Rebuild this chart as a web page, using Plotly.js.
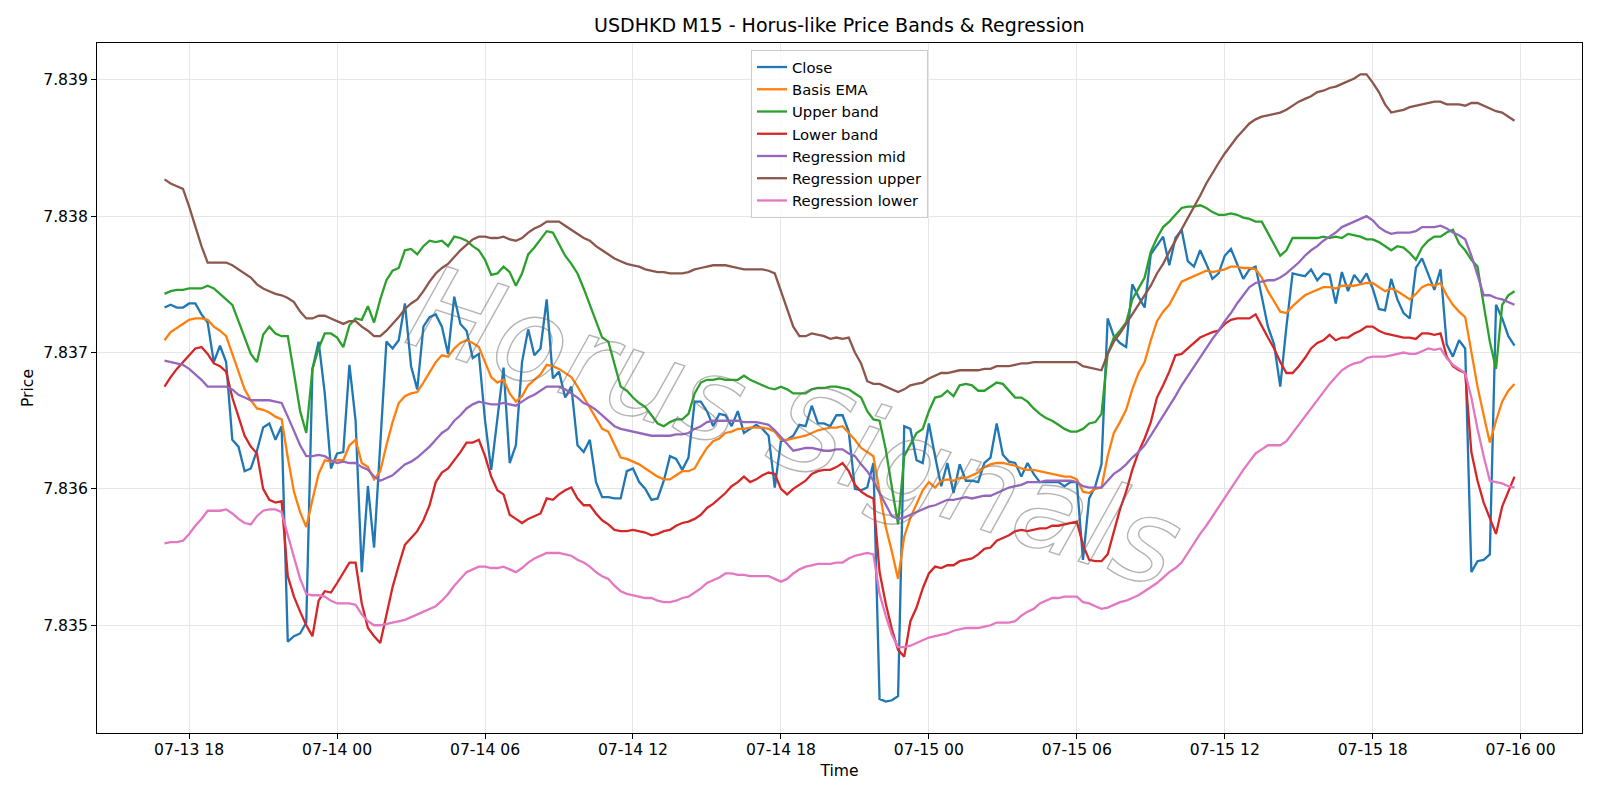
<!DOCTYPE html>
<html>
<head>
<meta charset="utf-8">
<script src="https://cdn.plot.ly/plotly-3.0.1.min.js"></script>
<style>
  html, body { margin: 0; padding: 0; background: #ffffff; }
  #chart { width: 1600px; height: 800px; }
</style>
</head>
<body>
<div id="chart"></div>
<script>
// USDHKD, 15-minute bars: first bar 2025-07-13 17:00, one value per bar.
const firstBar = { year: 2025, month: 7, day: 13, hour: 17, minute: 0 };
const barMinutes = 15;

const closeVals = [
  7.83733, 7.83735, 7.83733, 7.83733, 7.83736, 7.83736, 7.83728, 7.83722, 7.83693, 7.83705,
  7.83693, 7.83636, 7.83631, 7.83613, 7.83615, 7.83628, 7.83645, 7.83648, 7.83636, 7.83646,
  7.83488, 7.83492, 7.83494, 7.83502, 7.83688, 7.83708, 7.83670, 7.83615, 7.83626, 7.83627,
  7.83691, 7.83650, 7.83539, 7.83602, 7.83557, 7.83632, 7.83708, 7.83703, 7.83709, 7.83736,
  7.83690, 7.83673, 7.83719, 7.83726, 7.83728, 7.83719, 7.83699, 7.83741, 7.83721, 7.83716,
  7.83696, 7.83699, 7.83650, 7.83614, 7.83651, 7.83689, 7.83619, 7.83632, 7.83693, 7.83717,
  7.83698, 7.83703, 7.83739, 7.83681, 7.83686, 7.83667, 7.83675, 7.83632, 7.83627, 7.83636,
  7.83605, 7.83594, 7.83594, 7.83593, 7.83593, 7.83613, 7.83615, 7.83605, 7.83600, 7.83592,
  7.83593, 7.83606, 7.83624, 7.83622, 7.83614, 7.83623, 7.83664, 7.83664, 7.83657, 7.83646,
  7.83655, 7.83654, 7.83646, 7.83657, 7.83641, 7.83644, 7.83647, 7.83644, 7.83639, 7.83601,
  7.83635, 7.83636, 7.83639, 7.83647, 7.83646, 7.83661, 7.83648, 7.83648, 7.83646, 7.83654,
  7.83654, 7.83642, 7.83600, 7.83599, 7.83601, 7.83619, 7.83446, 7.83444, 7.83445, 7.83448,
  7.83646, 7.83644, 7.83621, 7.83619, 7.83648, 7.83624, 7.83602, 7.83619, 7.83597, 7.83618,
  7.83606, 7.83606, 7.83605, 7.83619, 7.83623, 7.83648, 7.83625, 7.83620, 7.83619, 7.83609,
  7.83619, 7.83611, 7.83605, 7.83605, 7.83605, 7.83605, 7.83602, 7.83605, 7.83605, 7.83548,
  7.83593, 7.83602, 7.83618, 7.83725, 7.83712, 7.83707, 7.83704, 7.83750, 7.83741, 7.83733,
  7.83772, 7.83779, 7.83785, 7.83764, 7.83784, 7.83790, 7.83767, 7.83763, 7.83775, 7.83765,
  7.83754, 7.83758, 7.83771, 7.83776, 7.83765, 7.83754, 7.83761, 7.83763, 7.83741, 7.83719,
  7.83706, 7.83675, 7.83719, 7.83758, 7.83757, 7.83756, 7.83761, 7.83753, 7.83758, 7.83757,
  7.83736, 7.83759, 7.83745, 7.83757, 7.83751, 7.83758, 7.83747, 7.83732, 7.83731, 7.83754,
  7.83739, 7.83729, 7.83725, 7.83762, 7.83769, 7.83758, 7.83746, 7.83761, 7.83706, 7.83697,
  7.83709, 7.83703, 7.83539, 7.83547, 7.83548, 7.83552, 7.83735, 7.83725, 7.83712, 7.83705
];

const basisEma = [
  7.83709, 7.83715, 7.83718, 7.83721, 7.83724, 7.83725, 7.83725, 7.83724, 7.83719, 7.83716,
  7.83712, 7.83699, 7.83686, 7.83673, 7.83665, 7.83659, 7.83658, 7.83656, 7.83653, 7.83651,
  7.83623, 7.83598, 7.83583, 7.83572, 7.83592, 7.83611, 7.83621, 7.83620, 7.83621, 7.83621,
  7.83632, 7.83636, 7.83619, 7.83616, 7.83607, 7.83613, 7.83632, 7.83649, 7.83663, 7.83668,
  7.83670, 7.83671, 7.83678, 7.83686, 7.83693, 7.83698, 7.83697, 7.83703, 7.83707, 7.83709,
  7.83707, 7.83704, 7.83693, 7.83682, 7.83678, 7.83680, 7.83670, 7.83664, 7.83668, 7.83676,
  7.83680, 7.83684, 7.83691, 7.83690, 7.83688, 7.83685, 7.83682, 7.83675, 7.83667, 7.83660,
  7.83652, 7.83644, 7.83642, 7.83632, 7.83623, 7.83622, 7.83620, 7.83618, 7.83615, 7.83612,
  7.83609, 7.83607, 7.83607, 7.83610, 7.83613, 7.83613, 7.83615, 7.83623, 7.83630, 7.83635,
  7.83637, 7.83641, 7.83642, 7.83644, 7.83644, 7.83645, 7.83645, 7.83645, 7.83644, 7.83642,
  7.83636, 7.83636, 7.83637, 7.83638, 7.83639, 7.83641, 7.83643, 7.83644, 7.83645, 7.83645,
  7.83646, 7.83641, 7.83636, 7.83630, 7.83627, 7.83624, 7.83598, 7.83572, 7.83554, 7.83534,
  7.83565, 7.83579, 7.83589, 7.83599, 7.83605, 7.83601, 7.83606, 7.83607, 7.83606, 7.83608,
  7.83608, 7.83610, 7.83612, 7.83616, 7.83618, 7.83619, 7.83619, 7.83618, 7.83617, 7.83615,
  7.83614, 7.83614, 7.83613, 7.83612, 7.83611, 7.83610, 7.83609, 7.83609, 7.83607, 7.83598,
  7.83597, 7.83600, 7.83601, 7.83624, 7.83641, 7.83649, 7.83658, 7.83673, 7.83685, 7.83693,
  7.83709, 7.83723, 7.83730, 7.83735, 7.83744, 7.83752, 7.83754, 7.83756, 7.83758, 7.83760,
  7.83759, 7.83760, 7.83761, 7.83763, 7.83763, 7.83762, 7.83762, 7.83761, 7.83755, 7.83745,
  7.83737, 7.83730, 7.83729, 7.83734, 7.83738, 7.83742, 7.83744, 7.83746, 7.83748, 7.83748,
  7.83747, 7.83749, 7.83749, 7.83749, 7.83750, 7.83751, 7.83751, 7.83748, 7.83745, 7.83747,
  7.83745, 7.83742, 7.83739, 7.83743, 7.83748, 7.83750, 7.83749, 7.83751, 7.83742, 7.83735,
  7.83730, 7.83726, 7.83699, 7.83675, 7.83654, 7.83634, 7.83650, 7.83664, 7.83672, 7.83677
];

const upperBand = [
  7.83743, 7.83745, 7.83746, 7.83746, 7.83747, 7.83747, 7.83747, 7.83749, 7.83747, 7.83743,
  7.83739, 7.83735, 7.83723, 7.83711, 7.83699, 7.83693, 7.83713, 7.83719, 7.83714, 7.83712,
  7.83712, 7.83685, 7.83657, 7.83641, 7.83688, 7.83703, 7.83714, 7.83714, 7.83711, 7.83704,
  7.83720, 7.83725, 7.83724, 7.83734, 7.83722, 7.83739, 7.83753, 7.83760, 7.83762, 7.83775,
  7.83776, 7.83772, 7.83778, 7.83782, 7.83781, 7.83782, 7.83778, 7.83785, 7.83784, 7.83782,
  7.83778, 7.83775, 7.83768, 7.83757, 7.83758, 7.83763, 7.83759, 7.83749, 7.83758, 7.83772,
  7.83777, 7.83783, 7.83789, 7.83788, 7.83780, 7.83771, 7.83765, 7.83758, 7.83747, 7.83735,
  7.83723, 7.83711, 7.83708, 7.83691, 7.83675, 7.83672, 7.83667, 7.83663, 7.83660, 7.83654,
  7.83648, 7.83646, 7.83649, 7.83651, 7.83651, 7.83655, 7.83670, 7.83678, 7.83680, 7.83680,
  7.83681, 7.83680, 7.83680, 7.83680, 7.83683, 7.83680, 7.83678, 7.83676, 7.83674, 7.83673,
  7.83675, 7.83673, 7.83670, 7.83670, 7.83670, 7.83673, 7.83674, 7.83674, 7.83675, 7.83675,
  7.83674, 7.83673, 7.83670, 7.83667, 7.83657, 7.83651, 7.83650, 7.83629, 7.83601, 7.83574,
  7.83624, 7.83632, 7.83641, 7.83644, 7.83657, 7.83667, 7.83668, 7.83672, 7.83668, 7.83676,
  7.83677, 7.83676, 7.83672, 7.83672, 7.83675, 7.83678, 7.83677, 7.83672, 7.83667, 7.83667,
  7.83664, 7.83659, 7.83655, 7.83652, 7.83650, 7.83647, 7.83644, 7.83642, 7.83642, 7.83644,
  7.83648, 7.83649, 7.83655, 7.83699, 7.83711, 7.83716, 7.83722, 7.83739, 7.83747, 7.83755,
  7.83774, 7.83784, 7.83792, 7.83796, 7.83801, 7.83806, 7.83807, 7.83807, 7.83808, 7.83806,
  7.83803, 7.83801, 7.83801, 7.83802, 7.83801, 7.83799, 7.83798, 7.83796, 7.83796, 7.83788,
  7.83779, 7.83771, 7.83775, 7.83784, 7.83784, 7.83784, 7.83784, 7.83784, 7.83785, 7.83784,
  7.83785, 7.83784, 7.83787, 7.83786, 7.83785, 7.83783, 7.83783, 7.83781, 7.83778, 7.83775,
  7.83778, 7.83777, 7.83773, 7.83768, 7.83777, 7.83782, 7.83785, 7.83785, 7.83788, 7.83790,
  7.83780, 7.83775, 7.83768, 7.83763, 7.83735, 7.83708, 7.83688, 7.83735, 7.83742, 7.83745
];

const lowerBand = [
  7.83675, 7.83682, 7.83688, 7.83693, 7.83698, 7.83703, 7.83704, 7.83699, 7.83692, 7.83690,
  7.83686, 7.83667, 7.83653, 7.83639, 7.83631, 7.83626, 7.83600, 7.83592, 7.83590, 7.83591,
  7.83536, 7.83521, 7.83510, 7.83500, 7.83492, 7.83518, 7.83525, 7.83524, 7.83531, 7.83539,
  7.83546, 7.83546, 7.83516, 7.83498, 7.83492, 7.83487, 7.83507, 7.83528, 7.83544, 7.83559,
  7.83564, 7.83569, 7.83577, 7.83588, 7.83605, 7.83612, 7.83615, 7.83621, 7.83627, 7.83634,
  7.83634, 7.83636, 7.83624, 7.83609, 7.83599, 7.83596, 7.83581, 7.83578, 7.83575, 7.83578,
  7.83580, 7.83582, 7.83593, 7.83592, 7.83596, 7.83599, 7.83601, 7.83593, 7.83588, 7.83588,
  7.83582, 7.83577, 7.83574, 7.83570, 7.83569, 7.83569, 7.83570, 7.83569, 7.83568, 7.83566,
  7.83567, 7.83569, 7.83570, 7.83573, 7.83575, 7.83576, 7.83578, 7.83581, 7.83586, 7.83589,
  7.83593, 7.83597, 7.83602, 7.83605, 7.83609, 7.83605, 7.83607, 7.83610, 7.83612, 7.83611,
  7.83600, 7.83596, 7.83600, 7.83603, 7.83606, 7.83611, 7.83613, 7.83614, 7.83614, 7.83616,
  7.83619, 7.83613, 7.83603, 7.83598, 7.83595, 7.83593, 7.83539, 7.83516, 7.83497, 7.83482,
  7.83477, 7.83503, 7.83513, 7.83527, 7.83538, 7.83543, 7.83542, 7.83544, 7.83544, 7.83547,
  7.83548, 7.83549, 7.83552, 7.83556, 7.83557, 7.83562, 7.83564, 7.83566, 7.83569, 7.83570,
  7.83569, 7.83570, 7.83571, 7.83571, 7.83573, 7.83573, 7.83574, 7.83575, 7.83576, 7.83559,
  7.83548, 7.83547, 7.83547, 7.83552, 7.83569, 7.83585, 7.83598, 7.83614, 7.83627, 7.83637,
  7.83649, 7.83667, 7.83676, 7.83686, 7.83698, 7.83699, 7.83703, 7.83707, 7.83711, 7.83713,
  7.83715, 7.83716, 7.83721, 7.83724, 7.83725, 7.83725, 7.83725, 7.83728, 7.83719, 7.83711,
  7.83703, 7.83693, 7.83685, 7.83685, 7.83690, 7.83696, 7.83703, 7.83707, 7.83709, 7.83713,
  7.83709, 7.83711, 7.83711, 7.83714, 7.83716, 7.83719, 7.83719, 7.83716, 7.83714, 7.83713,
  7.83712, 7.83711, 7.83711, 7.83710, 7.83714, 7.83714, 7.83713, 7.83714, 7.83697, 7.83690,
  7.83687, 7.83685, 7.83627, 7.83606, 7.83590, 7.83578, 7.83567, 7.83587, 7.83598, 7.83609
];

const regMid = [
  7.83694, 7.83693, 7.83692, 7.83691, 7.83688, 7.83684, 7.83680, 7.83675, 7.83675, 7.83675,
  7.83675, 7.83673, 7.83669, 7.83667, 7.83665, 7.83665, 7.83665, 7.83665, 7.83664, 7.83663,
  7.83653, 7.83642, 7.83632, 7.83624, 7.83624, 7.83625, 7.83624, 7.83621, 7.83619, 7.83620,
  7.83619, 7.83619, 7.83616, 7.83614, 7.83609, 7.83606, 7.83608, 7.83610, 7.83614, 7.83618,
  7.83620, 7.83623, 7.83627, 7.83631, 7.83636, 7.83641, 7.83644, 7.83650, 7.83654, 7.83659,
  7.83662, 7.83664, 7.83663, 7.83662, 7.83662, 7.83663, 7.83662, 7.83661, 7.83664, 7.83667,
  7.83669, 7.83672, 7.83675, 7.83675, 7.83675, 7.83673, 7.83670, 7.83667, 7.83663, 7.83661,
  7.83658, 7.83654, 7.83650, 7.83646, 7.83644, 7.83643, 7.83642, 7.83641, 7.83640, 7.83639,
  7.83639, 7.83639, 7.83639, 7.83640, 7.83640, 7.83641, 7.83644, 7.83646, 7.83649, 7.83650,
  7.83650, 7.83650, 7.83650, 7.83650, 7.83649, 7.83649, 7.83649, 7.83648, 7.83647, 7.83643,
  7.83638, 7.83633, 7.83628, 7.83629, 7.83630, 7.83630, 7.83629, 7.83628, 7.83628, 7.83629,
  7.83629, 7.83626, 7.83624, 7.83618, 7.83613, 7.83606, 7.83597, 7.83588, 7.83580, 7.83578,
  7.83579, 7.83581, 7.83583, 7.83585, 7.83587, 7.83588, 7.83590, 7.83592, 7.83592, 7.83593,
  7.83594, 7.83593, 7.83594, 7.83595, 7.83595, 7.83597, 7.83599, 7.83601, 7.83602, 7.83603,
  7.83605, 7.83605, 7.83605, 7.83606, 7.83606, 7.83606, 7.83606, 7.83606, 7.83605, 7.83602,
  7.83601, 7.83601, 7.83601, 7.83606, 7.83611, 7.83614, 7.83618, 7.83623, 7.83627, 7.83632,
  7.83639, 7.83646, 7.83654, 7.83661, 7.83668, 7.83676, 7.83683, 7.83690, 7.83697, 7.83703,
  7.83710, 7.83716, 7.83723, 7.83729, 7.83736, 7.83742, 7.83748, 7.83751, 7.83752, 7.83753,
  7.83753, 7.83755, 7.83758, 7.83762, 7.83766, 7.83771, 7.83775, 7.83778, 7.83782, 7.83785,
  7.83788, 7.83792, 7.83794, 7.83796, 7.83798, 7.83800, 7.83797, 7.83792, 7.83789, 7.83787,
  7.83788, 7.83788, 7.83788, 7.83789, 7.83792, 7.83792, 7.83792, 7.83793, 7.83791, 7.83788,
  7.83786, 7.83783, 7.83771, 7.83757, 7.83742, 7.83742, 7.83740, 7.83739, 7.83737, 7.83735
];

const regUpper = [
  7.83827, 7.83824, 7.83822, 7.83820, 7.83807, 7.83792, 7.83778, 7.83766, 7.83766, 7.83766,
  7.83766, 7.83764, 7.83761, 7.83758, 7.83755, 7.83750, 7.83747, 7.83745, 7.83743, 7.83742,
  7.83740, 7.83737, 7.83730, 7.83725, 7.83725, 7.83727, 7.83727, 7.83725, 7.83723, 7.83721,
  7.83723, 7.83723, 7.83719, 7.83716, 7.83712, 7.83712, 7.83716, 7.83721, 7.83726, 7.83732,
  7.83736, 7.83739, 7.83745, 7.83752, 7.83758, 7.83762, 7.83765, 7.83770, 7.83775, 7.83779,
  7.83783, 7.83785, 7.83785, 7.83784, 7.83784, 7.83785, 7.83783, 7.83782, 7.83784, 7.83788,
  7.83791, 7.83793, 7.83796, 7.83796, 7.83796, 7.83793, 7.83790, 7.83787, 7.83784, 7.83782,
  7.83778, 7.83775, 7.83772, 7.83769, 7.83767, 7.83765, 7.83764, 7.83763, 7.83761, 7.83760,
  7.83759, 7.83759, 7.83758, 7.83758, 7.83758, 7.83759, 7.83761, 7.83762, 7.83763, 7.83764,
  7.83764, 7.83764, 7.83763, 7.83762, 7.83761, 7.83761, 7.83761, 7.83761, 7.83760, 7.83758,
  7.83745, 7.83732, 7.83719, 7.83712, 7.83712, 7.83714, 7.83713, 7.83712, 7.83710, 7.83711,
  7.83710, 7.83711, 7.83700, 7.83692, 7.83679, 7.83677, 7.83677, 7.83675, 7.83673, 7.83671,
  7.83673, 7.83676, 7.83677, 7.83678, 7.83681, 7.83683, 7.83685, 7.83685, 7.83686, 7.83687,
  7.83687, 7.83687, 7.83687, 7.83688, 7.83688, 7.83690, 7.83690, 7.83690, 7.83691, 7.83692,
  7.83692, 7.83693, 7.83693, 7.83693, 7.83693, 7.83693, 7.83693, 7.83693, 7.83693, 7.83690,
  7.83689, 7.83688, 7.83687, 7.83699, 7.83708, 7.83714, 7.83721, 7.83728, 7.83735, 7.83742,
  7.83749, 7.83758, 7.83765, 7.83774, 7.83782, 7.83790, 7.83798, 7.83807, 7.83815, 7.83824,
  7.83832, 7.83839, 7.83846, 7.83852, 7.83858, 7.83863, 7.83868, 7.83871, 7.83873, 7.83874,
  7.83875, 7.83876, 7.83878, 7.83881, 7.83884, 7.83886, 7.83888, 7.83891, 7.83892, 7.83894,
  7.83895, 7.83897, 7.83899, 7.83901, 7.83904, 7.83904, 7.83898, 7.83891, 7.83882, 7.83876,
  7.83877, 7.83878, 7.83880, 7.83881, 7.83882, 7.83883, 7.83884, 7.83884, 7.83882, 7.83882,
  7.83882, 7.83881, 7.83883, 7.83883, 7.83881, 7.83879, 7.83877, 7.83876, 7.83873, 7.83870
];

const regLower = [
  7.83560, 7.83561, 7.83561, 7.83562, 7.83567, 7.83573, 7.83578, 7.83584, 7.83584, 7.83584,
  7.83585, 7.83582, 7.83578, 7.83575, 7.83574, 7.83580, 7.83584, 7.83585, 7.83585, 7.83583,
  7.83566, 7.83549, 7.83534, 7.83523, 7.83522, 7.83522, 7.83521, 7.83518, 7.83516, 7.83516,
  7.83516, 7.83515, 7.83508, 7.83503, 7.83500, 7.83500, 7.83501, 7.83502, 7.83503, 7.83504,
  7.83506, 7.83508, 7.83510, 7.83512, 7.83514, 7.83518, 7.83523, 7.83529, 7.83534, 7.83539,
  7.83541, 7.83543, 7.83543, 7.83542, 7.83542, 7.83543, 7.83541, 7.83539, 7.83542, 7.83546,
  7.83549, 7.83551, 7.83553, 7.83553, 7.83553, 7.83552, 7.83551, 7.83548, 7.83546, 7.83543,
  7.83539, 7.83536, 7.83534, 7.83529, 7.83525, 7.83523, 7.83522, 7.83521, 7.83520, 7.83520,
  7.83518, 7.83517, 7.83517, 7.83518, 7.83520, 7.83521, 7.83524, 7.83527, 7.83531, 7.83533,
  7.83535, 7.83538, 7.83538, 7.83537, 7.83537, 7.83536, 7.83536, 7.83536, 7.83536, 7.83534,
  7.83532, 7.83534, 7.83538, 7.83541, 7.83543, 7.83544, 7.83545, 7.83545, 7.83545, 7.83546,
  7.83546, 7.83549, 7.83551, 7.83552, 7.83553, 7.83552, 7.83523, 7.83507, 7.83493, 7.83484,
  7.83484, 7.83485, 7.83487, 7.83489, 7.83491, 7.83492, 7.83493, 7.83494, 7.83496, 7.83497,
  7.83498, 7.83498, 7.83498, 7.83499, 7.83500, 7.83502, 7.83502, 7.83502, 7.83503, 7.83507,
  7.83510, 7.83512, 7.83516, 7.83518, 7.83520, 7.83520, 7.83521, 7.83521, 7.83521, 7.83517,
  7.83516, 7.83514, 7.83512, 7.83513, 7.83515, 7.83517, 7.83518, 7.83520, 7.83522, 7.83525,
  7.83528, 7.83531, 7.83535, 7.83539, 7.83542, 7.83546, 7.83553, 7.83560, 7.83567, 7.83573,
  7.83580, 7.83587, 7.83594, 7.83600, 7.83607, 7.83614, 7.83620, 7.83626, 7.83629, 7.83632,
  7.83632, 7.83632, 7.83635, 7.83641, 7.83647, 7.83653, 7.83659, 7.83665, 7.83671, 7.83677,
  7.83682, 7.83687, 7.83690, 7.83692, 7.83693, 7.83696, 7.83697, 7.83697, 7.83697, 7.83698,
  7.83699, 7.83700, 7.83699, 7.83699, 7.83701, 7.83703, 7.83702, 7.83703, 7.83696, 7.83691,
  7.83688, 7.83685, 7.83667, 7.83644, 7.83624, 7.83606, 7.83605, 7.83604, 7.83602, 7.83601
];

const seriesNames = ['Close', 'Basis EMA', 'Upper band', 'Lower band',
  'Regression mid', 'Regression upper', 'Regression lower'];
const seriesColors = ['#1f77b4', '#ff7f0e', '#2ca02c', '#d62728',
  '#9467bd', '#8c564b', '#e377c2'];
const priceTicks = [7.835, 7.836, 7.837, 7.838, 7.839];

// Bar timestamps as plain date strings (no timezone shifts).
function pad(n) { return String(n).padStart(2, '0'); }
function barTime(i) {
  const total = firstBar.hour * 60 + firstBar.minute + barMinutes * i;
  const day = firstBar.day + Math.floor(total / 1440);
  const m = total % 1440;
  return firstBar.year + '-' + pad(firstBar.month) + '-' + pad(day) + ' ' +
    pad(Math.floor(m / 60)) + ':' + pad(m % 60);
}
const times = closeVals.map((_, i) => barTime(i));

const allSeries = [closeVals, basisEma, upperBand, lowerBand, regMid, regUpper, regLower];
const traces = allSeries.map((vals, k) => ({
  type: 'scatter',
  mode: 'lines',
  name: seriesNames[k],
  x: times,
  y: vals,
  line: { color: seriesColors[k], width: 2.3 },
  hoverinfo: 'x+y+name'
}));

// 5% padding around the data on both axes
const tFirst = new Date(times[0].replace(' ', 'T') + ':00Z').getTime();
const tLast = new Date(times[times.length - 1].replace(' ', 'T') + ':00Z').getTime();
const tPad = (tLast - tFirst) * 0.05;
function isoNoZone(ms) { return new Date(ms).toISOString().slice(0, 19).replace('T', ' '); }
const allVals = allSeries.flat();
const yMin = Math.min(...allVals), yMax = Math.max(...allVals);
const yPad = (yMax - yMin) * 0.05;

const fontFamily = 'DejaVu Sans, Verdana, sans-serif';
const baseFont = { family: fontFamily, size: 15.6, color: '#000000' };

const layout = {
  width: 1600,
  height: 800,
  margin: { l: 97, r: 18, t: 43, b: 67 },
  paper_bgcolor: '#ffffff',
  plot_bgcolor: '#ffffff',
  font: baseFont,
  showlegend: true,
  title: {
    text: 'USDHKD M15 - Horus-like Price Bands & Regression',
    font: { family: fontFamily, size: 19, color: '#000000' },
    x: 0.5246, xanchor: 'center',
    y: 0.968, yref: 'container', yanchor: 'middle'
  },
  xaxis: {
    type: 'date',
    range: [isoNoZone(tFirst - tPad), isoNoZone(tLast + tPad)],
    tick0: '2025-07-13 00:00',
    dtick: 6 * 3600 * 1000,
    tickformat: '%m-%d %H',
    ticks: 'outside', ticklen: 5, tickwidth: 1, tickcolor: '#000000',
    ticklabelstandoff: -3,
    showline: true, linecolor: '#000000', linewidth: 1, mirror: true,
    showgrid: true, gridcolor: '#e6e6e6', gridwidth: 1,
    zeroline: false,
    tickfont: baseFont,
    title: { text: 'Time', font: baseFont, standoff: 7 }
  },
  yaxis: {
    range: [yMin - yPad, yMax + yPad],
    tickvals: priceTicks,
    tickformat: '.3f',
    ticks: 'outside', ticklen: 5, tickwidth: 1, tickcolor: '#000000',
    showline: true, linecolor: '#000000', linewidth: 1, mirror: true,
    showgrid: true, gridcolor: '#e6e6e6', gridwidth: 1,
    zeroline: false,
    tickfont: baseFont,
    title: { text: 'Price', font: baseFont, standoff: 5 }
  },
  legend: {
    x: 0.5, xanchor: 'center',
    y: 0.99, yanchor: 'top',
    bgcolor: 'rgba(255,255,255,0.8)',
    bordercolor: '#cccccc', borderwidth: 1,
    font: { family: fontFamily, size: 14.8, color: '#000000' },
    itemwidth: 30
  },
  annotations: [{
    text: 'Horus Signals',
    xref: 'paper', yref: 'paper',
    x: 0.47, y: 0.444,
    xanchor: 'center', yanchor: 'middle',
    textangle: 18,
    showarrow: false,
    font: { family: 'DejaVu Sans, sans-serif', size: 117, color: 'rgba(150,150,150,0.35)', style: 'italic' }
  }]
};

Plotly.newPlot('chart', traces, layout, { displayModeBar: false, staticPlot: true }).then(gd => {
  // Watermark drawn as hollow, outlined lettering
  gd.querySelectorAll('.annotation-text').forEach(el => {
    el.style.fill = 'none';
    el.style.stroke = 'rgba(105,105,105,0.5)';
    el.style.strokeWidth = '1.4px';
  });
});
</script>
</body>
</html>
